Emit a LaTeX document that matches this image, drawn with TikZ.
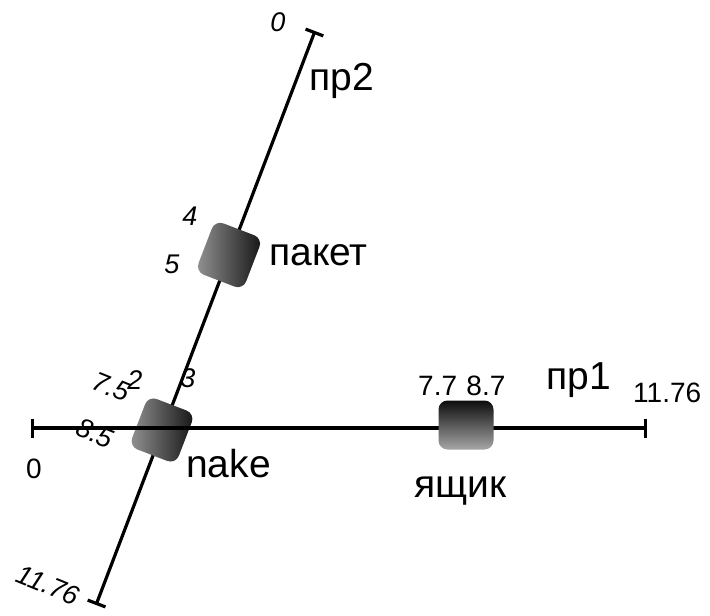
\documentclass[tikz,border=0pt]{standalone}
\usepackage{fontspec}
\setmainfont{Liberation Sans}
\usetikzlibrary{arrows.meta}
\begin{document}
\begin{tikzpicture}[x=1pt,y=-1pt,
  axisline/.style={line width=3.2pt, {Bar[width=19pt]}-{Bar[width=19pt]}},
  box/.style={rounded corners=9pt, inner sep=0pt, draw=none},
  big/.style={font=\fontsize{39}{39}\selectfont, inner sep=0pt},
  num/.style={font=\fontsize{28}{28}\selectfont, inner sep=0pt},
  inum/.style={font=\fontsize{27}{27}\selectfont\itshape, inner sep=0pt}]
\useasboundingbox (0,0) rectangle (710,616);
\coordinate (a1) at (31,428);
\coordinate (b1) at (647,428);
\coordinate (a2) at (315,31);
\coordinate (b2) at (96,605);
% pr2 axis
\draw[axisline] (a2) -- (b2);
% nake box
\node[box, minimum width=50pt, minimum height=54pt, rotate=-21,
  left color=black!42, right color=black!92] (nake) at (162,430) {};
% pr1 axis
\draw[axisline] (a1) -- (b1);
% boxes
\node[box, minimum width=55pt, minimum height=49pt,
  top color=black!95, bottom color=black!35] (box) at (466,425) {};
\node[box, minimum width=51pt, minimum height=55pt, rotate=-21,
  left color=black!42, right color=black!92] (paket) at (229,255) {};
% names
\node[big, anchor=base west] (lpr2) at (309,90) {пр2};
\node[big, anchor=base west] (lpaket) at (269,265) {пакет};
\node[big, anchor=base west] (lnake) at (186,477) {nake};
\node[big, anchor=base west] (lbox) at (414,497) {ящик};
\node[big, anchor=base west] (lpr1) at (546,389) {пр1};
% numbers
\node[num, anchor=base west] (n77) at (418,395) {7.7\,\,8.7};
\node[num, anchor=base west] (n1176a) at (633,402) {11.76};
\node[num, anchor=base west] (n0a) at (26,478) {0};
\node[inum] (n0b) at (278,22) {0};
\node[inum] (n4) at (190,216) {4};
\node[inum] (n5) at (172,264) {5};
\node[inum] (n2) at (135,380) {2};
\node[inum] (n3) at (188,378) {3};
\node[inum, rotate=-22] (n75) at (111,387) {7.5};
\node[inum, rotate=-22] (n85) at (95,433) {8.5};
\node[inum, rotate=-22] (n1176b) at (48,585) {11.76};
\end{tikzpicture}
\end{document}
